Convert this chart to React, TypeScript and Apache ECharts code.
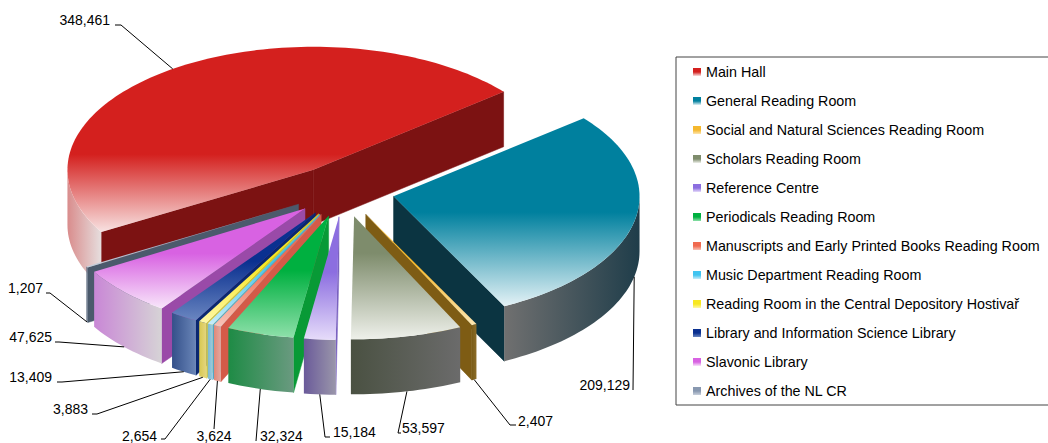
import React, { useEffect, useRef } from 'react';
import * as echarts from 'echarts';

// ---------- data ----------
const CATEGORIES = [
  'Main Hall',
  'General Reading Room',
  'Social and Natural Sciences Reading Room',
  'Scholars Reading Room',
  'Reference Centre',
  'Periodicals Reading Room',
  'Manuscripts and Early Printed Books Reading Room',
  'Music Department Reading Room',
  'Reading Room in the Central Depository Hostivař',
  'Library and Information Science Library',
  'Slavonic Library',
  'Archives of the NL CR',
];
const VALUES = [348461, 209129, 2407, 53597, 15184, 32324, 3624, 2654, 3883, 13409, 47625, 1207];

// ---------- styles ----------
const TOP_COLORS = ['#d4201e', '#00809e', '#f5b82e', '#7e8c6c', '#8c6ee0', '#00b040', '#f06a50', '#40c4f0', '#f8e820', '#0a3090', '#d862e2', '#8898b0'];
const LIGHT_COLORS = ['#f8e2e2', '#e4f2f6', '#fde6b0', '#eef0ea', '#e6dcfa', '#8ee0aa', '#f8c4b8', '#c8ecfa', '#fff8a8', '#6a86c0', '#f8e6fa', '#c8d0dc'];
const SOLID_STOP = [0.58, 0.5, 0.45, 0.3, 0.45, 0.45, 0.45, 0.45, 0.45, 0.45, 0.45, 0.45];
const SIDE_COLORS = ['#7c1212', '#0b3441', '#7e5c14', '#555c4c', '#7a62c0', '#089a36', '#d45a48', '#50a8c8', '#d8c830', '#0a2870', '#9a4aa8', '#4b5a6c'];
const WALL_COLORS = [
  ['#d98c8c', '#e6dede'],
  ['#707070', '#1f3d4a'],
  ['#7a5c18', '#8c6c28'],
  ['#4a5142', '#6b6b6b'],
  ['#6a5a9a', '#9a96aa'],
  ['#1e8b45', '#6a9a80'],
  ['#e08878', '#e4a8a0'],
  ['#7ab8d0', '#9ccce0'],
  ['#d8c850', '#e4d680'],
  ['#34508a', '#6a86b8'],
  ['#c987d6', '#d6d3d6'],
  ['#56657a', '#6a788c'],
];

// ---------- layout ----------
const CX = 343, CY = 191, R = 246, TILT = 0.5, DEPTH = 55, EXPLODE = 0.21, START = -120.4;
const FONT = '14px "Liberation Sans", Arial, sans-serif';
// [textX, textY, align, lineEndX, lineEndY, stub]
const LABEL_LAYOUT: [number, number, string, number, number, number][] = [
  [110, 20, 'right', 121, 25, -6],
  [630, 385, 'right', 633, 390, 0],
  [518, 421, 'left', 510, 425, 6],
  [402, 428, 'left', 398, 433, 3],
  [333, 432, 'left', 325, 437, 5],
  [260, 436, 'left', 256, 441, 0],
  [214, 436, 'center', 214, 429, 0],
  [157, 436, 'right', 165, 439, -4],
  [88, 409, 'right', 97, 414, -5],
  [52, 377, 'right', 62, 382, -5],
  [52, 337, 'right', 59, 342, -4],
  [43, 288, 'right', 50, 293, -4],
];

const TOTAL = VALUES.reduce((a, b) => a + b, 0);
const rad = (d: number) => (d * Math.PI) / 180;

function angles(i: number, v: number): [number, number] {
  let before = 0;
  for (let j = 0; j < i; j++) before += VALUES[j];
  const a0 = START + (before / TOTAL) * 360;
  return [a0, a0 + (v / TOTAL) * 360];
}
function offsetOf(mid: number): [number, number] {
  return [EXPLODE * R * Math.sin(rad(mid)), -EXPLODE * R * TILT * Math.cos(rad(mid))];
}
function pt(o: [number, number], th: number, r: number, z: number): number[] {
  return [CX + o[0] + r * R * Math.sin(rad(th)), CY + o[1] - r * R * TILT * Math.cos(rad(th)) + z];
}
function arc(o: [number, number], a0: number, a1: number, z: number): number[][] {
  const n = Math.max(2, Math.ceil(Math.abs(a1 - a0) / 1.5));
  const out: number[][] = [];
  for (let k = 0; k <= n; k++) out.push(pt(o, a0 + ((a1 - a0) * k) / n, 1, z));
  return out;
}

function makeSliceRender(i: number) {
  return (params: any, api: any) => {
    const v = api.value(0);
    const [a0, a1] = angles(i, v);
    const mid = (a0 + a1) / 2;
    const o = offsetOf(mid);
    const apexTop = pt(o, 0, 0, 0);
    const apexBot = pt(o, 0, 0, DEPTH);
    const children: any[] = [];
    const radial = (phi: number) => ({
      type: 'polygon',
      shape: { points: [apexTop, pt(o, phi, 1, 0), pt(o, phi, 1, DEPTH), apexBot] },
      style: { fill: SIDE_COLORS[i], stroke: SIDE_COLORS[i], lineWidth: 0.5 },
    });
    if (Math.sin(rad(a0)) < 0) children.push(radial(a0));
    if (Math.sin(rad(a1)) > 0) children.push(radial(a1));
    for (const k of [-1, 0, 1]) {
      const f0 = 90 + 360 * k, f1 = 270 + 360 * k;
      const b0 = Math.max(a0, f0), b1 = Math.min(a1, f1);
      if (b1 > b0) {
        const top = arc(o, b0, b1, 0);
        const bot = arc(o, b0, b1, DEPTH).reverse();
        children.push({
          type: 'polygon',
          shape: { points: top.concat(bot) },
          style: {
            fill: new echarts.graphic.LinearGradient(0, 0, 1, 0, [
              { offset: 0, color: WALL_COLORS[i][0] },
              { offset: 1, color: WALL_COLORS[i][1] },
            ]),
          },
        });
      }
    }
    children.push({
      type: 'polygon',
      shape: { points: [apexTop].concat(arc(o, a0, a1, 0)) },
      style: {
        fill: new echarts.graphic.LinearGradient(0, 0, 0, 1, [
          { offset: 0, color: TOP_COLORS[i] },
          { offset: SOLID_STOP[i], color: TOP_COLORS[i] },
          { offset: 1, color: LIGHT_COLORS[i] },
        ]),
      },
    });
    return { type: 'group', children };
  };
}

function labelRender(params: any, api: any) {
  const i = params.dataIndex;
  const v = api.value(0);
  const [a0, a1] = angles(i, v);
  const mid = (a0 + a1) / 2;
  const o = offsetOf(mid);
  const front = -Math.cos(rad(mid)) > 0;
  const anchor = pt(o, mid, 1, front ? DEPTH : 0);
  const [tx, ty, align, lx, ly, stub] = LABEL_LAYOUT[i];
  const pts = [anchor, [lx, ly]];
  if (stub) pts.push([lx + stub, ly]);
  return {
    type: 'group',
    children: [
      { type: 'polyline', shape: { points: pts }, style: { stroke: '#000', lineWidth: 1, fill: null } },
      {
        type: 'text',
        x: tx,
        y: ty,
        style: {
          text: v.toLocaleString('en-US'),
          fill: '#000',
          font: FONT,
          align,
          verticalAlign: 'middle',
          textAlign: align,
          textVerticalAlign: 'middle',
        },
      },
    ],
  };
}

export default function App() {
  const ref = useRef<HTMLDivElement>(null);
  useEffect(() => {
    if (!ref.current) return;
    const chart = echarts.init(ref.current, undefined, { renderer: 'svg' });
    const mids = VALUES.map((v, i) => {
      const [a0, a1] = angles(i, v);
      return -Math.cos(rad((a0 + a1) / 2));
    });
    const order = mids.map((m, i) => [m, i]).sort((a, b) => a[0] - b[0]).map((x) => x[1]);
    const rank: number[] = [];
    order.forEach((idx, r) => (rank[idx] = r));

    const sliceSeries = CATEGORIES.map((name, i) => ({
      type: 'custom',
      name,
      coordinateSystem: 'none',
      silent: true,
      z: 2 + rank[i],
      itemStyle: {
        color: new echarts.graphic.LinearGradient(0, 0, 0, 1, [
          { offset: 0, color: TOP_COLORS[i] },
          { offset: 0.5, color: TOP_COLORS[i] },
          { offset: 1, color: LIGHT_COLORS[i] },
        ]),
      },
      renderItem: makeSliceRender(i),
      data: [[VALUES[i]]],
    }));

    chart.setOption({
      animation: false,
      backgroundColor: '#ffffff',
      legend: {
        data: CATEGORIES,
        orient: 'vertical',
        left: 676,
        top: 57,
        icon: 'rect',
        itemWidth: 8,
        itemHeight: 8,
        itemGap: 15,
        selectedMode: false,
        padding: [8, 30, 7, 17],
        borderColor: '#444',
        borderWidth: 1,
        backgroundColor: '#fff',
        textStyle: { fontSize: 14.3, lineHeight: 14, color: '#000', fontFamily: '"Liberation Sans", Arial, sans-serif' },
      },
      series: [
        ...sliceSeries,
        {
          type: 'custom',
          name: 'labels',
          coordinateSystem: 'none',
          silent: true,
          z: 50,
          renderItem: labelRender,
          data: VALUES.map((v) => [v]),
        },
      ],
    });
    return () => chart.dispose();
  }, []);
  return <div ref={ref} style={{ position: 'absolute', left: 0, top: 0, width: 1048, height: 443 }} />;
}
